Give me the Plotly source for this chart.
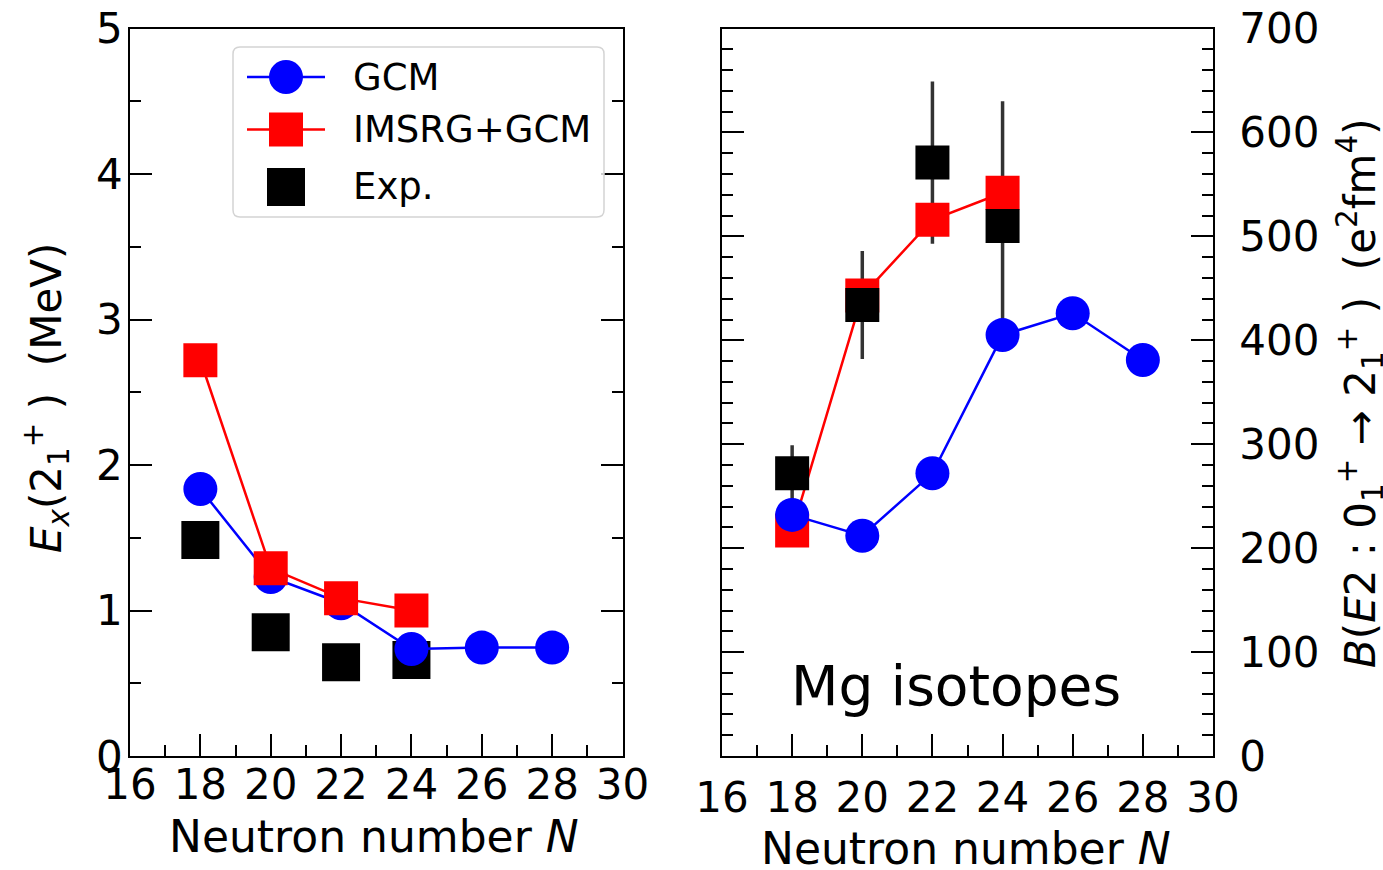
import plotly.graph_objects as go

# ---- data -------------------------------------------------------------
N_all = [18, 20, 22, 24, 26, 28]
N_imsrg = [18, 20, 22, 24]
N_exp = [18, 20, 22, 24]

# excitation energy of the first 2+ state (MeV)
ex_gcm = [1.835, 1.23, 1.05, 0.735, 0.745, 0.745]
ex_imsrg = [2.72, 1.29, 1.085, 1.0]
ex_exp = [1.485, 0.85, 0.645, 0.66]

# B(E2: 0+ -> 2+) (e^2 fm^4)
be2_gcm = [232, 212, 272, 405, 426, 381]
be2_imsrg = [217, 443, 516, 542]
be2_exp = [272, 434, 571, 510]
be2_exp_err = [27, 52, 78, 120]

x_ticks = [16, 18, 20, 22, 24, 26, 28, 30]

# ---- figure geometry --------------------------------------------------
W, H = 1383, 870
FONT = "DejaVu Sans"
BLUE, RED, BLACK = "#0000ff", "#ff0000", "#000000"


def px(x):
    return x / W


def py(y):
    return 1 - y / H


fig = go.Figure()

# left panel: Ex(2+)
fig.add_trace(go.Scatter(x=N_exp, y=ex_exp, mode="markers", xaxis="x", yaxis="y",
                         marker=dict(symbol="square", size=38, color=BLACK, line_width=0),
                         showlegend=False, name="Exp."))
fig.add_trace(go.Scatter(x=N_all, y=ex_gcm, mode="lines+markers", xaxis="x", yaxis="y",
                         line=dict(color=BLUE, width=2.5),
                         marker=dict(symbol="circle", size=34, color=BLUE, line_width=0),
                         showlegend=False, name="GCM"))
fig.add_trace(go.Scatter(x=N_imsrg, y=ex_imsrg, mode="lines+markers", xaxis="x", yaxis="y",
                         line=dict(color=RED, width=2.5),
                         marker=dict(symbol="square", size=34, color=RED, line_width=0),
                         showlegend=False, name="IMSRG+GCM"))

# right panel: B(E2)
fig.add_trace(go.Scatter(x=N_exp, y=be2_exp, mode="markers", xaxis="x2", yaxis="y2",
                         marker=dict(size=1, color="rgba(0,0,0,0)"),
                         error_y=dict(type="data", array=be2_exp_err, visible=True,
                                      color="#333333", thickness=3.5, width=0),
                         showlegend=False, hoverinfo="skip"))
fig.add_trace(go.Scatter(x=N_imsrg, y=be2_imsrg, mode="lines+markers", xaxis="x2", yaxis="y2",
                         line=dict(color=RED, width=2.5),
                         marker=dict(symbol="square", size=34, color=RED, line_width=0),
                         showlegend=False, name="IMSRG+GCM"))
fig.add_trace(go.Scatter(x=N_exp, y=be2_exp, mode="markers", xaxis="x2", yaxis="y2",
                         marker=dict(symbol="square", size=34, color=BLACK, line_width=0),
                         showlegend=False, name="Exp."))
fig.add_trace(go.Scatter(x=N_all, y=be2_gcm, mode="lines+markers", xaxis="x2", yaxis="y2",
                         line=dict(color=BLUE, width=2.5),
                         marker=dict(symbol="circle", size=34, color=BLUE, line_width=0),
                         showlegend=False, name="GCM"))

tickfont = dict(family=FONT, size=42, color=BLACK)
common_x = dict(range=[16, 30], tickvals=x_ticks, ticktext=[str(v) for v in x_ticks],
                ticks="inside", ticklen=22, tickwidth=1.5, tickcolor=BLACK,
                minor=dict(dtick=1, ticks="inside", ticklen=11, tickwidth=1.5, tickcolor=BLACK),
                showline=True, linecolor=BLACK, linewidth=1.8, mirror=True,
                showgrid=False, zeroline=False, tickfont=tickfont, automargin=False)
common_y = dict(ticks="inside", ticklen=22, tickwidth=1.5, tickcolor=BLACK,
                showline=True, linecolor=BLACK, linewidth=1.8, mirror="allticks",
                showgrid=False, zeroline=False, tickfont=tickfont, automargin=False)

y_dom = [py(756), py(28.5)]
fig.update_layout(
    width=W, height=H,
    margin=dict(l=0, r=0, t=0, b=0, pad=0, autoexpand=False),
    paper_bgcolor="white", plot_bgcolor="white",
    font=dict(family=FONT, color=BLACK),
    xaxis=dict(domain=[px(130), px(622.5)], anchor="y", ticklabelstandoff=-9, **common_x),
    yaxis=dict(domain=y_dom, anchor="x", range=[0, 5], dtick=1,
               minor=dict(dtick=0.5, ticks="inside", ticklen=11, tickwidth=1.5, tickcolor=BLACK),
               ticklabelstandoff=-3, **common_y),
    xaxis2=dict(domain=[px(722), px(1213)], anchor="y2", ticklabelstandoff=4, **common_x),
    yaxis2=dict(domain=y_dom, anchor="x2", side="right", range=[0, 700], dtick=100,
                minor=dict(dtick=20, ticks="inside", ticklen=11, tickwidth=1.5, tickcolor=BLACK),
                ticklabelstandoff=16, **common_y),
)

annotations = [
    dict(text="Neutron number <i>N</i>", x=px(374), y=py(836), xref="paper", yref="paper",
         xanchor="center", yanchor="middle", showarrow=False, font=dict(family=FONT, size=44)),
    dict(text="Neutron number <i>N</i>", x=px(966), y=py(848), xref="paper", yref="paper",
         xanchor="center", yanchor="middle", showarrow=False, font=dict(family=FONT, size=44)),
    dict(text="<i>E</i><sub><i>x</i></sub>(2<sub>1</sub><sup>+</sup> )  (MeV)",
         x=px(46), y=py(398), xref="paper", yref="paper", textangle=-90,
         xanchor="center", yanchor="middle", showarrow=False, font=dict(family=FONT, size=42)),
    dict(text="<i>B</i>(<i>E</i>2 : 0<sub>1</sub><sup>+</sup> → 2<sub>1</sub><sup>+</sup> )  (e<sup>2</sup>fm<sup>4</sup>)",
         x=px(1360), y=py(393), xref="paper", yref="paper", textangle=-90,
         xanchor="center", yanchor="middle", showarrow=False, font=dict(family=FONT, size=42)),
    dict(text="Mg isotopes", x=px(956), y=py(686), xref="paper", yref="paper",
         xanchor="center", yanchor="middle", showarrow=False, font=dict(family=FONT, size=55)),
]

# ---- legend box drawn with shapes --------------------------------------
bx0, bx1, by0, by1, rad = 233, 604, 47, 217, 7
box_path = (
    f"M {px(bx0 + rad)} {py(by0)} L {px(bx1 - rad)} {py(by0)} "
    f"Q {px(bx1)} {py(by0)} {px(bx1)} {py(by0 + rad)} L {px(bx1)} {py(by1 - rad)} "
    f"Q {px(bx1)} {py(by1)} {px(bx1 - rad)} {py(by1)} L {px(bx0 + rad)} {py(by1)} "
    f"Q {px(bx0)} {py(by1)} {px(bx0)} {py(by1 - rad)} L {px(bx0)} {py(by0 + rad)} "
    f"Q {px(bx0)} {py(by0)} {px(bx0 + rad)} {py(by0)} Z"
)
shapes = [dict(type="path", path=box_path, xref="paper", yref="paper",
               line=dict(color="#d4d4d4", width=1.5), fillcolor="rgba(255,255,255,0.8)")]

legend_items = [
    ("GCM", BLUE, "circle", 34, True, 77),
    ("IMSRG+GCM", RED, "rect", 34, True, 129.5),
    ("Exp.", BLACK, "rect", 38, False, 187),
]
key_x, key_half, text_x = 286, 39, 351
for label, color, kind, size, has_line, yc in legend_items:
    if has_line:
        shapes.append(dict(type="line", xref="paper", yref="paper",
                           x0=px(key_x - key_half), x1=px(key_x + key_half),
                           y0=py(yc), y1=py(yc), line=dict(color=color, width=2.5)))
    shapes.append(dict(type=kind, xref="paper", yref="paper",
                       xsizemode="pixel", ysizemode="pixel",
                       xanchor=px(key_x), yanchor=py(yc),
                       x0=-size / 2, x1=size / 2, y0=-size / 2, y1=size / 2,
                       fillcolor=color, line=dict(width=0)))
    annotations.append(dict(text=label, x=px(text_x), y=py(yc), xref="paper", yref="paper",
                            xanchor="left", yanchor="middle", showarrow=False,
                            font=dict(family=FONT, size=37)))

fig.update_layout(shapes=shapes, annotations=annotations)
fig.write_html("out.html")
